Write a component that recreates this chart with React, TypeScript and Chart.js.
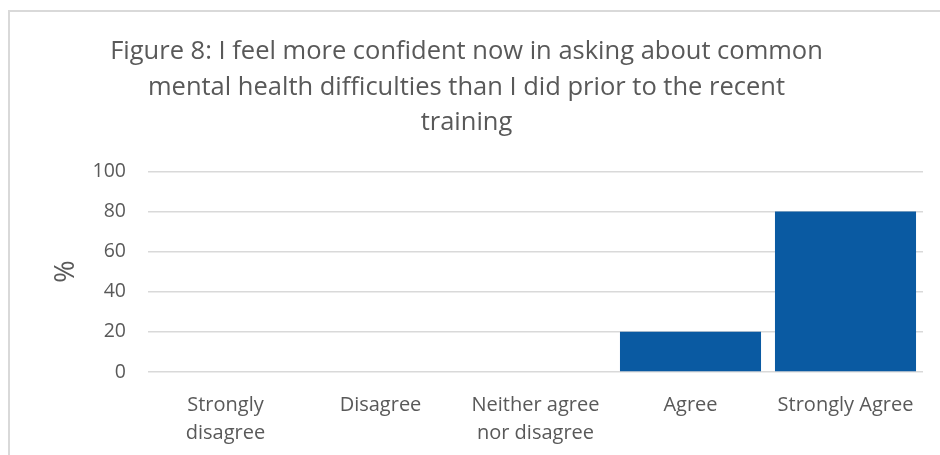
import React, { useEffect, useRef } from "react";
import { Chart, registerables } from "chart.js";

Chart.register(...registerables);

const categories: (string | string[])[] = [
  ["Strongly", "disagree"],
  "Disagree",
  ["Neither agree", "nor disagree"],
  "Agree",
  "Strongly Agree",
];
const percentages: number[] = [0, 0, 0, 20, 80];
const titleLines: string[] = [
  "Figure 8: I feel more confident now in asking about common",
  "mental health difficulties than I did prior to the recent",
  "training",
];
const yAxisLabel = "%";

const FONT = "'Open Sans', Lato, sans-serif";
const TEXT = "#595959";

export default function App() {
  const ref = useRef<HTMLCanvasElement | null>(null);

  useEffect(() => {
    if (!ref.current) return;
    const chart = new Chart(ref.current, {
      type: "bar",
      data: {
        labels: categories,
        datasets: [
          {
            data: percentages,
            backgroundColor: "#0A5AA2",
            borderWidth: 0,
            barPercentage: 0.91,
            categoryPercentage: 1,
          },
        ],
      },
      options: {
        responsive: false,
        animation: false,
        layout: { padding: { left: 0, right: 17, top: 0, bottom: 0 } },
        plugins: {
          legend: { display: false },
          tooltip: { enabled: false },
          title: {
            display: true,
            text: titleLines,
            color: TEXT,
            font: { family: FONT, size: 25.5, weight: "normal", lineHeight: 1.39 },
            padding: { top: 22.5, bottom: 30.5 },
          },
        },
        scales: {
          x: {
            grid: { display: false },
            border: { display: false },
            ticks: {
              color: TEXT,
              font: { family: FONT, size: 20, lineHeight: 1.4 },
              padding: 11,
              maxRotation: 0,
              autoSkip: false,
            },
            afterFit: (s: any) => {
              s.height = 83;
            },
          },
          y: {
            min: 0,
            max: 100,
            ticks: {
              stepSize: 20,
              color: TEXT,
              font: { family: FONT, size: 19.5 },
              padding: 22,
            },
            grid: { color: "#D9D9D9", lineWidth: 1.5, drawTicks: false },
            border: { display: false },
            title: {
              display: true,
              text: yAxisLabel,
              color: TEXT,
              font: { family: FONT, size: 27 },
              padding: { top: 40, bottom: 0 },
            },
            afterFit: (s: any) => {
              s.width = 138;
            },
          },
        },
      },
    });
    return () => chart.destroy();
  }, []);

  return (
    <div
      style={{
        position: "absolute",
        left: 8,
        top: 10,
        width: 940,
        height: 460,
        border: "2px solid #D9D9D9",
        borderRight: "none",
        background: "#fff",
        boxSizing: "border-box",
      }}
    >
      <canvas ref={ref} width={930} height={443} style={{ display: "block" }} />
    </div>
  );
}
